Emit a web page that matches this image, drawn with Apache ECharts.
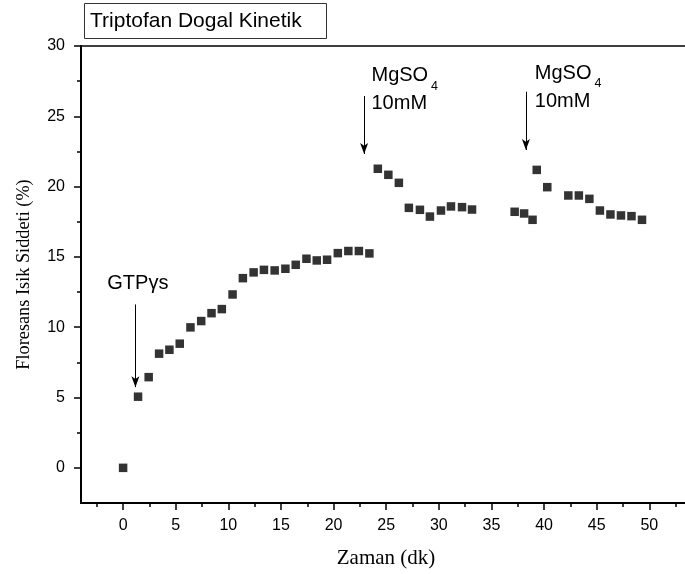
<!DOCTYPE html>
<html>
<head>
<meta charset="utf-8">
<script src="https://cdn.jsdelivr.net/npm/echarts@6/dist/echarts.min.js"></script>
<style>
html,body{margin:0;padding:0;background:#fff;}
#c{width:685px;height:574px;}
</style>
</head>
<body>
<div id="c"></div>
<script>
// ---- data ----
var timeMin = [0, 1.42, 2.43, 3.42, 4.4, 5.38, 6.4, 7.42, 8.4, 9.38, 10.4, 11.38, 12.4, 13.38, 14.4, 15.42, 16.4, 17.42, 18.4, 19.38, 20.4, 21.4, 22.4, 23.4,
  24.2, 25.2, 26.2, 27.15, 28.2, 29.15, 30.2, 31.15, 32.2, 33.15,
  37.2, 38.1, 38.9, 39.3, 40.3, 42.3, 43.3, 44.3, 45.3, 46.3, 47.3, 48.3, 49.3];
var intensity = [0, 5.06, 6.45, 8.12, 8.4, 8.83, 9.99, 10.44, 11.0, 11.29, 12.33, 13.49, 13.9, 14.08, 14.04, 14.16, 14.44, 14.87, 14.75, 14.8, 15.27, 15.42, 15.42, 15.25,
  21.27, 20.84, 20.27, 18.49, 18.35, 17.87, 18.3, 18.59, 18.54, 18.37,
  18.21, 18.09, 17.64, 21.19, 19.96, 19.37, 19.37, 19.13, 18.3, 18.02, 17.95, 17.9, 17.64];
var xMajorTicks = [0, 5, 10, 15, 20, 25, 30, 35, 40, 45, 50, 55];
var xMinorTicks = [-2.5, 2.5, 7.5, 12.5, 17.5, 22.5, 27.5, 32.5, 37.5, 42.5, 47.5, 52.5];
var xTickLabels = [0, 5, 10, 15, 20, 25, 30, 35, 40, 45, 50];
var yMajorTicks = [0, 5, 10, 15, 20, 25, 30];
var yMinorTicks = [2.5, 7.5, 12.5, 17.5, 22.5, 27.5];
var yTickLabels = [0, 5, 10, 15, 20, 25, 30];
// annotation arrows: x, start y, tip y
var arrowX = [1.17, 22.9, 38.27];
var arrowTop = [11.62, 26.44, 26.75];
var arrowTip = [5.74, 22.32, 22.6];
// annotation labels
var noteText = ['GTPγs', 'MgSO\n10mM', 'MgSO\n10mM'];
var noteX = [-1.55, 23.55, 39.07];
var noteY = [13.1, 26.94, 27.08];
// subscript "4" of MgSO4
var subText = ['4', '4'];
var subX = [29.2, 44.75];
var subY = [27.1, 27.3];

// ---- chart ----
var points = timeMin.map(function (t, i) { return [t, intensity[i]]; });
var arrowData = arrowX.map(function (x, i) {
  return [{ coord: [x, arrowTop[i]] }, { coord: [x, arrowTip[i]] }];
});
var noteData = noteText.map(function (s, i) {
  return { coord: [noteX[i], noteY[i]], label: { formatter: s } };
});
subText.forEach(function (s, i) {
  noteData.push({ coord: [subX[i], subY[i]], label: { formatter: s, fontSize: 12.5, lineHeight: 12 } });
});

var sans = 'Liberation Sans, Arial, sans-serif';
var serif = 'Liberation Serif, Times New Roman, serif';

function tickAxis(vals, len, pos) {
  return {
    type: 'value', position: pos,
    axisLine: { show: false, onZero: false },
    axisTick: { show: true, inside: false, length: len, customValues: vals, lineStyle: { color: '#000', width: 1.5 } },
    axisLabel: { show: false },
    splitLine: { show: false }
  };
}
var xTicksMajor = tickAxis(xMajorTicks, 7, 'bottom');
var xTicksMinor = tickAxis(xMinorTicks, 4, 'bottom');
var yTicksMajor = tickAxis(yMajorTicks, 7, 'left');
var yTicksMinor = tickAxis(yMinorTicks, 4, 'left');
[xTicksMajor, xTicksMinor].forEach(function (a) { a.min = -4; a.max = 55; });
[yTicksMajor, yTicksMinor].forEach(function (a) { a.min = -2.5; a.max = 30; });

var chart = echarts.init(document.getElementById('c'), null, { renderer: 'canvas' });
chart.setOption({
  animation: false,
  backgroundColor: '#fff',
  title: {
    text: 'Triptofan Dogal Kinetik',
    left: 84, top: 3,
    padding: [7, 25, 7, 6],
    borderColor: '#333', borderWidth: 1,
    textStyle: { fontFamily: sans, fontSize: 21, fontWeight: 'normal', color: '#000', lineHeight: 22 }
  },
  grid: {
    left: 81, top: 46, width: 621, height: 457,
    outerBoundsMode: 'none', containLabel: false,
    show: true, borderColor: '#000', borderWidth: 1.5, backgroundColor: 'transparent'
  },
  xAxis: [{
    type: 'value', min: -4, max: 55, position: 'bottom',
    name: 'Zaman (dk)', nameLocation: 'middle', nameGap: 45,
    nameTextStyle: { fontFamily: serif, fontSize: 21, color: '#000', padding: [0, 11, 0, 0] },
    axisLine: { show: true, onZero: false, lineStyle: { color: '#000', width: 2 } },
    axisTick: { show: false },
    axisLabel: { show: true, margin: 15, customValues: xTickLabels, fontFamily: sans, fontSize: 16, color: '#000' },
    splitLine: { show: false }
  }, xTicksMajor, xTicksMinor],
  yAxis: [{
    type: 'value', min: -2.5, max: 30, position: 'left',
    name: 'Floresans Isik Siddeti (%)', nameLocation: 'middle', nameGap: 48,
    nameTextStyle: { fontFamily: serif, fontSize: 18.3, color: '#000' },
    axisLine: { show: true, onZero: false, lineStyle: { color: '#000', width: 2 } },
    axisTick: { show: false },
    axisLabel: { show: true, margin: 16, customValues: yTickLabels, fontFamily: sans, fontSize: 16, color: '#000' },
    splitLine: { show: false }
  }, yTicksMajor, yTicksMinor],
  series: [{
    type: 'scatter',
    xAxisIndex: 0, yAxisIndex: 0,
    data: points,
    symbol: 'rect', symbolSize: 8.5,
    itemStyle: { color: '#000' },
    markLine: {
      silent: true,
      symbol: ['none', 'arrow'],
      symbolSize: [6, 11],
      lineStyle: { color: '#000', width: 1, type: 'solid' },
      label: { show: false },
      emphasis: { disabled: true },
      data: arrowData
    },
    markPoint: {
      silent: true,
      symbol: 'circle', symbolSize: 1,
      itemStyle: { color: 'rgba(0,0,0,0)' },
      label: {
        show: true, position: 'right', distance: 0,
        fontFamily: sans, fontSize: 20, color: '#000', lineHeight: 28
      },
      data: noteData
    }
  }]
});
</script>
</body>
</html>
